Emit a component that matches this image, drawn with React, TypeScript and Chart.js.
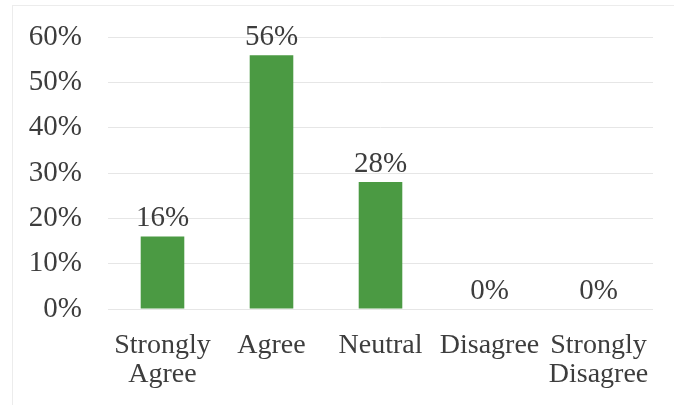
import React, { useEffect, useRef } from "react";
import { Chart, registerables } from "chart.js";

Chart.register(...registerables);

const categories: (string | string[])[] = [
  ["Strongly", "Agree"],
  "Agree",
  "Neutral",
  "Disagree",
  ["Strongly", "Disagree"],
];
const values: number[] = [16, 56, 28, 0, 0];
const yMin = 0;
const yMax = 60;
const yStep = 10;

const FONT = '"Liberation Serif", "Times New Roman", serif';
const TEXT = "#3d3d3d";
const BAR = "#4b9a43";

const dataLabelPlugin = {
  id: "dataLabels",
  afterDatasetsDraw(chart: any) {
    const ctx = chart.ctx;
    ctx.save();
    ctx.font = `29px ${FONT}`;
    ctx.fillStyle = TEXT;
    ctx.textAlign = "center";
    ctx.textBaseline = "alphabetic";
    chart.data.datasets.forEach((ds: any, di: number) => {
      const meta = chart.getDatasetMeta(di);
      meta.data.forEach((el: any, i: number) => {
        const v = ds.data[i];
        ctx.fillText(`${v}%`, el.x, el.y - 10);
      });
    });
    ctx.restore();
  },
};

export default function App() {
  const ref = useRef<HTMLCanvasElement | null>(null);

  useEffect(() => {
    document.body.style.margin = "0";
    if (!ref.current) return;
    const chart = new Chart(ref.current, {
      type: "bar",
      data: {
        labels: categories,
        datasets: [
          {
            data: values,
            backgroundColor: BAR,
            borderWidth: 0,
            categoryPercentage: 1,
            barPercentage: 0.4,
          },
        ],
      },
      options: {
        animation: false,
        responsive: false,
        maintainAspectRatio: false,
        layout: { padding: { top: 37, right: 21, left: 0, bottom: 0 } },
        plugins: {
          legend: { display: false },
          tooltip: { enabled: false },
          title: { display: false },
        },
        scales: {
          x: {
            grid: { display: false, drawTicks: false },
            border: { display: false },
            ticks: {
              color: TEXT,
              font: { family: FONT, size: 28, lineHeight: 1.04 },
              padding: 22,
              maxRotation: 0,
              autoSkip: false,
            },
            afterFit: (scale: any) => {
              scale.height = 96;
            },
          },
          y: {
            min: yMin,
            max: yMax,
            grid: { color: "#e6e6e6", lineWidth: 1, drawTicks: false },
            border: { display: false },
            ticks: {
              stepSize: yStep,
              color: TEXT,
              font: { family: FONT, size: 29 },
              padding: 26,
              callback: (v: any) => `${v}%`,
            },
            afterFit: (scale: any) => {
              scale.width = 108;
              scale.paddingTop = 0;
              scale.paddingBottom = 0;
            },
          },
        },
      },
      plugins: [dataLabelPlugin],
    });
    return () => chart.destroy();
  }, []);

  return (
    <div style={{ position: "relative", width: 674, height: 405, background: "#fff" }}>
      <div
        style={{
          position: "absolute",
          left: 12,
          top: 5,
          right: 0,
          bottom: 0,
          borderLeft: "1px solid #ececec",
          borderTop: "1px solid #ececec",
          pointerEvents: "none",
        }}
      />
      <canvas ref={ref} width={674} height={405} style={{ position: "absolute", left: 0, top: 0, width: 674, height: 405 }} />
    </div>
  );
}
